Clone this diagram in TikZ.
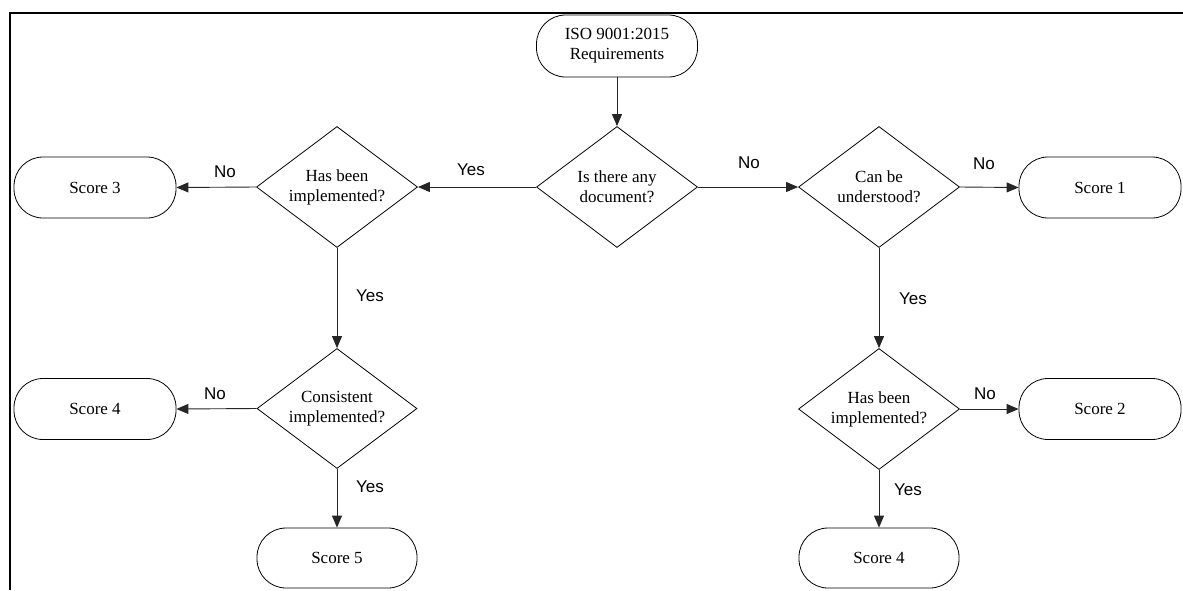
\documentclass[tikz,border=0pt]{standalone}
\usepackage{fontspec}
\setmainfont{Liberation Serif}
\newfontfamily\labelfont{Liberation Sans}
\usetikzlibrary{shapes.geometric,arrows.meta}
\begin{document}
\begin{tikzpicture}[x=1pt,y=-1pt,
  term/.style={draw, line width=0.8pt, rounded corners=29pt, minimum width=162pt, minimum height=61pt, inner sep=0pt, align=center, font=\fontsize{17}{20}\selectfont},
  decision/.style={draw, line width=0.8pt, diamond, aspect=1.33, minimum width=161pt, minimum height=121pt, inner sep=0pt, align=center, font=\fontsize{17}{20}\selectfont},
  flow/.style={draw=black!85, line width=0.9pt, -{Triangle[length=12pt,width=10pt]}},
  lbl/.style={inner sep=0pt, font=\labelfont\fontsize{17}{20}\selectfont},
  frame/.style={line width=2pt}
]
\useasboundingbox (0,0) rectangle (1183,590);
\draw[frame] (10,590) -- (10,13) -- (1183,13);

\node[term, minimum width=161pt, minimum height=62pt] (start) at (617,46) {ISO 9001:2015\\Requirements};
\node[decision] (d1) at (617,187) {Is there any\\document?};
\node[decision] (d2) at (337,187) {Has been\\implemented?};
\node[decision] (d3) at (879,187) {Can be\\understood?};
\node[term] (s3) at (95,187.5) {Score 3};
\node[term] (s1) at (1100,187.5) {Score 1};
\node[decision, minimum width=160pt, minimum height=120pt] (d4) at (337,408.5) {Consistent\\implemented?};
\node[decision] (d5) at (879,409) {Has been\\implemented?};
\node[term] (s4l) at (95,409) {Score 4};
\node[term] (s2) at (1100,409) {Score 2};
\node[term, minimum width=160pt, minimum height=60pt] (s5) at (337,558) {Score 5};
\node[term, minimum width=160pt, minimum height=60pt] (s4r) at (879,558) {Score 4};

\draw[flow] (start) -- (d1);
\draw[flow] (d1.west) -- (d2.east);
\draw[flow] (d1.east) -- (d3.west);
\draw[flow] (d2.west) -- (s3.east);
\draw[flow] (d3.east) -- (s1.west);
\draw[flow] (d2.south) -- (d4.north);
\draw[flow] (d3.south) -- (d5.north);
\draw[flow] (d4.west) -- (s4l.east);
\draw[flow] (d4.south) -- (s5.north);
\draw[flow] (d5.east) -- (s2.west);
\draw[flow] (d5.south) -- (s4r.north);

\node[lbl] (l1) at (471,170) {Yes};
\node[lbl] (l2) at (749,163) {No};
\node[lbl] (l3) at (225,172) {No};
\node[lbl] (l4) at (984,164) {No};
\node[lbl] (l5) at (370,296) {Yes};
\node[lbl] (l6) at (913,299) {Yes};
\node[lbl] (l7) at (215,394) {No};
\node[lbl] (l8) at (985,394) {No};
\node[lbl] (l9) at (370,487) {Yes};
\node[lbl] (l10) at (908,490) {Yes};
\end{tikzpicture}
\end{document}
